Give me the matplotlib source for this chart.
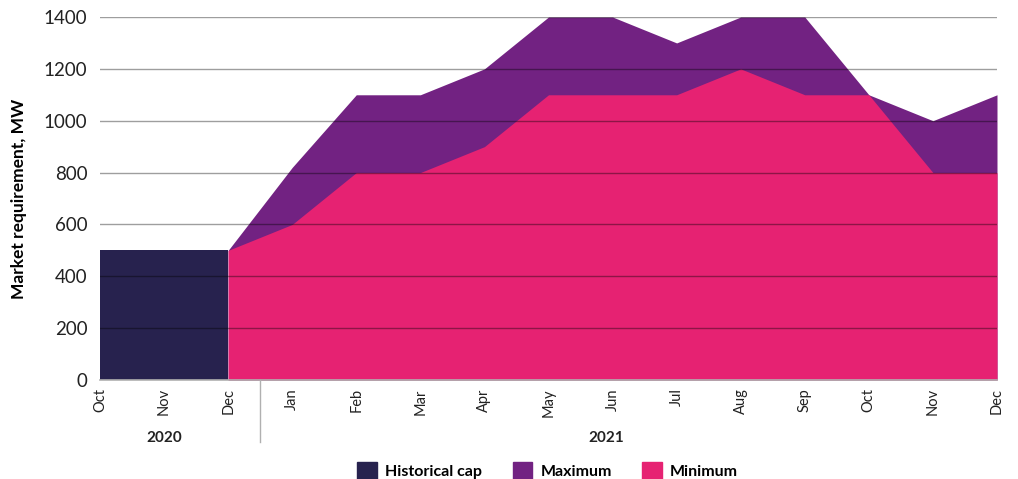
import matplotlib.pyplot as plt
import matplotlib.transforms as mtransforms
from matplotlib.patches import Patch
import numpy as np

plt.rcParams['font.family'] = ['Lato', 'DejaVu Sans']

months = ['Oct', 'Nov', 'Dec', 'Jan', 'Feb', 'Mar', 'Apr', 'May', 'Jun',
          'Jul', 'Aug', 'Sep', 'Oct', 'Nov', 'Dec']
years = ['2020', '2021']

historical_cap = [500, 500, 500]
maximum = [500, 820, 1100, 1100, 1200, 1400, 1400, 1300, 1400, 1400, 1100, 1000, 1100]
minimum = [500, 600, 800, 800, 900, 1100, 1100, 1100, 1200, 1100, 1100, 800, 800]

c_hist = '#27224e'
c_max = '#722282'
c_min = '#e62272'

x = np.arange(len(months))
x_hist = x[:3]
x_2021 = x[2:]

fig = plt.figure(figsize=(10.18, 4.79), dpi=100)
ax = fig.add_axes([100 / 1018, 99 / 479, 897 / 1018, 363 / 479])

ax.fill_between(x_hist, 0, historical_cap, color=c_hist, lw=0)
ax.fill_between(x_2021, 0, maximum, color=c_max, lw=0)
ax.fill_between(x_2021, 0, minimum, color=c_min, lw=0)

# gridlines drawn over the areas
for yv in range(200, 1401, 200):
    ax.axhline(yv, color='black', alpha=0.38, lw=1, zorder=5)

ax.set_xlim(0, len(months) - 1)
ax.set_ylim(0, 1400)
ax.set_yticks(range(0, 1401, 200))
ax.set_xticks(x)
ax.set_xticklabels(months, rotation=90, fontsize=10.5, color='#222222')
ax.tick_params(axis='y', length=0, labelsize=13.5, colors='#222222', pad=9)
ax.tick_params(axis='x', length=0, pad=6)
ax.set_ylabel('Market requirement, MW', fontsize=12.5, fontweight='bold', labelpad=12)

for s in ['top', 'right', 'left']:
    ax.spines[s].set_visible(False)
ax.spines['bottom'].set_color('#b0b0b0')
ax.spines['bottom'].set_linewidth(1.2)
ax.spines['bottom'].set_zorder(6)

# year labels and separator under the month ticks
trans = mtransforms.blended_transform_factory(ax.transData, ax.transAxes)
ax.text(1, -0.16, years[0], transform=trans, ha='center', va='center',
        fontsize=11, fontweight='bold', color='#222222')
ax.text(7.9, -0.16, years[1], transform=trans, ha='center', va='center',
        fontsize=11, fontweight='bold', color='#222222')
ax.plot([2.5, 2.5], [0, -0.172], transform=trans, color='#b0b0b0', lw=1, clip_on=False)

handles = [Patch(color=c_hist, label='Historical cap'),
           Patch(color=c_max, label='Maximum'),
           Patch(color=c_min, label='Minimum')]
fig.legend(handles=handles, loc='lower center', bbox_to_anchor=(0.538, -0.03), ncol=3,
           frameon=False, handlelength=1.25, handleheight=1.25, handletextpad=0.5,
           columnspacing=1.9, prop={'weight': 'bold', 'size': 11.5})

fig.savefig('out.png', dpi=100)
